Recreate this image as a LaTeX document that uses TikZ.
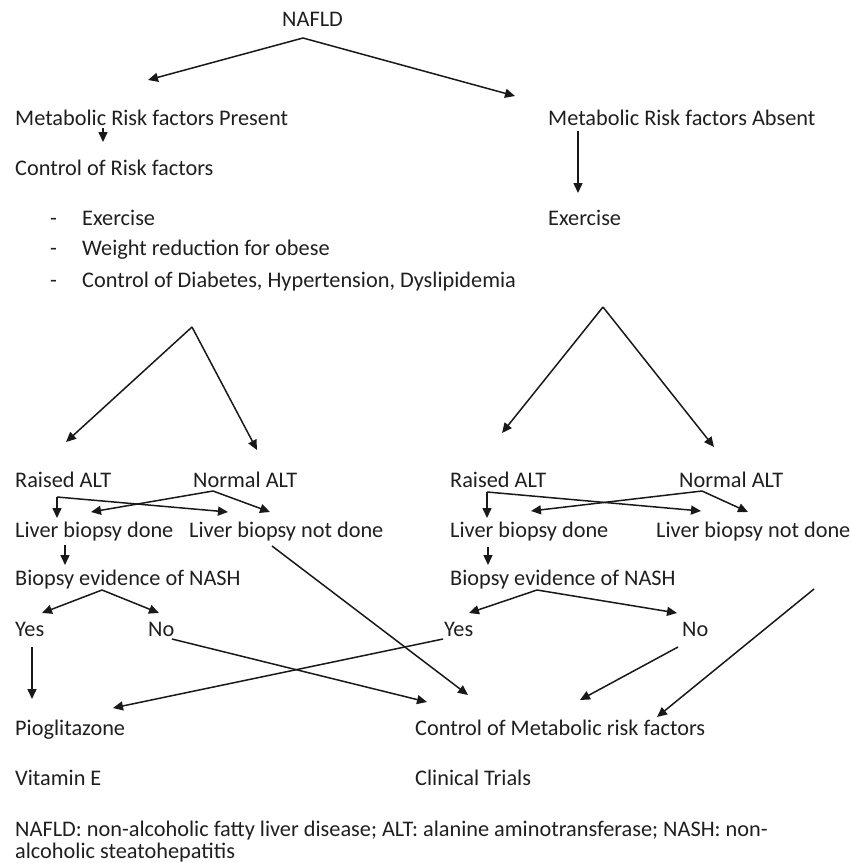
\documentclass[tikz,border=0pt]{standalone}
\usepackage{fontspec}
\setmainfont{Carlito}
\usetikzlibrary{arrows.meta,positioning}

\begin{document}
\begin{tikzpicture}[x=1pt,y=-1pt,
    txt/.style={anchor=base west,inner sep=0pt,text=black!88,font=\fontsize{22.3}{26}\selectfont},
    arr/.style={-{Triangle[length=10pt,width=9pt]},line width=1.5pt,draw=black!90},
    ln/.style={line width=1.5pt}]
  \useasboundingbox (0,0) rectangle (850,863);

  % top level
  \node[txt] (nafld) at (282,26) {NAFLD};
  \node[txt] (pres) at (15,125) {Metabolic Risk factors Present};
  \node[txt] (absn) at (548,125) {Metabolic Risk factors Absent};
  \node[txt] (ctrl) at (15,175) {Control of Risk factors};
  \node[txt] (d1) at (50,225) {-};
  \node[txt] (d2) at (50,255) {-};
  \node[txt] (d3) at (50,287) {-};
  \node[txt] (ex1) at (82,225) {Exercise};
  \node[txt] (wr1) at (82,255) {Weight reduction for obese};
  \node[txt] (cd1) at (82,287) {Control of Diabetes, Hypertension, Dyslipidemia};
  \node[txt] (ex2) at (548,225) {Exercise};

  % ALT level
  \node[txt] (ralt1) at (15,487) {Raised ALT};
  \node[txt] (nalt1) at (193,487) {Normal ALT};
  \node[txt] (ralt2) at (450,487) {Raised ALT};
  \node[txt] (nalt2) at (679,487) {Normal ALT};
  \node[txt] (lbd1) at (15,537) {Liver biopsy done};
  \node[txt] (lbn1) at (189,537) {Liver biopsy not done};
  \node[txt] (lbd2) at (450,537) {Liver biopsy done};
  \node[txt] (lbn2) at (656,537) {Liver biopsy not done};
  \node[txt] (bev1) at (15,585) {Biopsy evidence of NASH};
  \node[txt] (bev2) at (450,585) {Biopsy evidence of NASH};
  \node[txt] (yes1) at (15,636) {Yes};
  \node[txt] (no1) at (148,636) {No};
  \node[txt] (yes2) at (444,636) {Yes};
  \node[txt] (no2) at (682,636) {No};

  % outcomes
  \node[txt] (pio) at (15,735) {Pioglitazone};
  \node[txt] (cmr) at (415,735) {Control of Metabolic risk factors};
  \node[txt] (vite) at (15,785) {Vitamin E};
  \node[txt] (clin) at (415,785) {Clinical Trials};
  \node[txt] (foot1) at (15,836) {NAFLD: non-alcoholic fatty liver disease; ALT: alanine aminotransferase; NASH: non-};
  \node[txt] (foot2) at (15,858) {alcoholic steatohepatitis};

  % fork and end points
  \coordinate (f0) at (303,38);
  \coordinate (f0l) at (148,80);
  \coordinate (f0r) at (515,96);
  \coordinate (pres-s) at (103,128);
  \coordinate (ctrl-n) at (103,142);
  \coordinate (absn-s) at (578,131);
  \coordinate (ex2-n) at (578,193);
  \coordinate (f1) at (192,327);
  \coordinate (f1l) at (66,442);
  \coordinate (f1r) at (257,450);
  \coordinate (f2) at (603,307);
  \coordinate (f2l) at (502,433);
  \coordinate (f2r) at (714,447);
  \coordinate (r1) at (57,497);
  \coordinate (r1d) at (57,518);
  \coordinate (r1n) at (228,512);
  \coordinate (n1) at (213,491);
  \coordinate (n1d) at (91,512);
  \coordinate (n1n) at (270,512);
  \coordinate (r2) at (487,492);
  \coordinate (r2d) at (487,518);
  \coordinate (r2n) at (701,511);
  \coordinate (n2) at (702,491);
  \coordinate (n2d) at (531,511);
  \coordinate (n2n) at (748,512);
  \coordinate (lbd1-s) at (65,545);
  \coordinate (bev1-n) at (65,565);
  \coordinate (lbd2-s) at (488,547);
  \coordinate (bev2-n) at (488,565);
  \coordinate (b1) at (102,590);
  \coordinate (b1y) at (42,613);
  \coordinate (b1n) at (159,613);
  \coordinate (b2) at (537,590);
  \coordinate (b2y) at (469,613);
  \coordinate (b2n) at (677,613);
  \coordinate (yes1-s) at (32,647);
  \coordinate (pio-n) at (32,699);
  \coordinate (no1-e) at (172,639);
  \coordinate (cmr-a) at (427,702);
  \coordinate (lbn1-s) at (272,546);
  \coordinate (cmr-b) at (468,695);
  \coordinate (yes2-w) at (443,639);
  \coordinate (pio-e) at (113,708);
  \coordinate (no2-s) at (678,647);
  \coordinate (cmr-c) at (580,700);
  \coordinate (lbn2-s) at (814,589);
  \coordinate (cmr-d) at (657,717);

  % connectors
  \draw[arr] (f0) -- (f0l);
  \draw[arr] (f0) -- (f0r);
  \draw[arr] (pres-s) -- (ctrl-n);
  \draw[arr] (absn-s) -- (ex2-n);
  \draw[arr] (f1) -- (f1l);
  \draw[arr] (f1) -- (f1r);
  \draw[arr] (f2) -- (f2l);
  \draw[arr] (f2) -- (f2r);
  \draw[arr] (r1) -- (r1d);
  \draw[arr] (r1) -- (r1n);
  \draw[arr] (n1) -- (n1d);
  \draw[arr] (n1) -- (n1n);
  \draw[arr] (r2) -- (r2d);
  \draw[arr] (r2) -- (r2n);
  \draw[arr] (n2) -- (n2d);
  \draw[arr] (n2) -- (n2n);
  \draw[arr] (lbd1-s) -- (bev1-n);
  \draw[arr] (lbd2-s) -- (bev2-n);
  \draw[arr] (b1) -- (b1y);
  \draw[arr] (b1) -- (b1n);
  \draw[arr] (b2) -- (b2y);
  \draw[arr] (b2) -- (b2n);
  \draw[arr] (yes1-s) -- (pio-n);
  \draw[arr] (no1-e) -- (cmr-a);
  \draw[arr] (lbn1-s) -- (cmr-b);
  \draw[arr] (yes2-w) -- (pio-e);
  \draw[arr] (no2-s) -- (cmr-c);
  \draw[arr] (lbn2-s) -- (cmr-d);
\end{tikzpicture}
\end{document}
